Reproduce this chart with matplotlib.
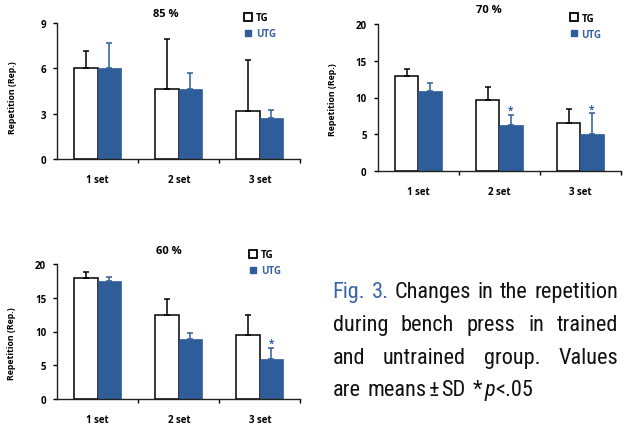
import matplotlib
matplotlib.use('Agg')
import matplotlib.pyplot as plt
from matplotlib import font_manager
from matplotlib.lines import Line2D
import numpy as np

BLUE = '#2F5D9A'
LABEL_BLUE = '#3B63A6'

sets = ['1 set', '2 set', '3 set']

# 85 % 1RM
tg_85 = [6.0, 4.6, 3.15]
tg_85_sd = [1.15, 3.33, 3.37]
utg_85 = [6.0, 4.6, 2.72]
utg_85_sd = [1.7, 1.08, 0.5]
sig_85 = [False, False, False]

# 70 % 1RM
tg_70 = [12.9, 9.65, 6.5]
tg_70_sd = [1.0, 1.72, 1.9]
utg_70 = [10.85, 6.3, 5.0]
utg_70_sd = [1.08, 1.36, 2.85]
sig_70 = [False, True, True]

# 60 % 1RM
tg_60 = [18.0, 12.5, 9.5]
tg_60_sd = [0.75, 2.36, 2.96]
utg_60 = [17.5, 8.95, 5.9]
utg_60_sd = [0.6, 0.85, 1.72]
sig_60 = [False, False, True]


def pick_font(names):
    for name in names:
        try:
            font_manager.findfont(name, fallback_to_default=False)
            return name
        except Exception:
            pass
    return 'DejaVu Sans'

CHART_FONT = pick_font(['Open Sans', 'Liberation Sans'])
CAPTION_FONT = pick_font(['Roboto Condensed', 'Liberation Sans Narrow',
                          'Roboto', 'Liberation Sans'])

plt.rcParams['font.family'] = [CHART_FONT, 'DejaVu Sans']

W, H = 625, 427
fig = plt.figure(figsize=(W / 100, H / 100), dpi=100)


def px_rect(left, right, top, bottom):
    return [left / W, 1 - bottom / H, (right - left) / W, (bottom - top) / H]


def draw_panel(rect, title, tg, tg_sd, utg, utg_sd, sig, yticks,
               title_pos, legend_pos, ylabel_pos):
    ax = fig.add_axes(rect)
    x = np.arange(len(sets))
    w = 0.288
    zeros = np.zeros(len(sets))
    ax.bar(x - w / 2, tg, w, color='white', edgecolor='black', linewidth=1.1,
           yerr=[zeros, tg_sd], ecolor='black',
           error_kw=dict(elinewidth=1.1, capsize=2, capthick=1.1), zorder=2)
    ax.bar(x + w / 2, utg, w, color=BLUE, edgecolor=BLUE, linewidth=0.5,
           yerr=[zeros, utg_sd], ecolor=BLUE,
           error_kw=dict(elinewidth=1.1, capsize=2, capthick=1.1), zorder=2)
    for xi, m, s, flag in zip(x, utg, utg_sd, sig):
        if flag:
            ax.annotate('*', (xi + w / 2, m + s), xytext=(0, -1),
                        textcoords='offset points', ha='center', va='bottom',
                        color=BLUE, fontsize=7, fontweight='bold')
    ax.set_xlim(-0.5, 2.5)
    ax.set_ylim(0, yticks[-1])
    ax.set_yticks(yticks)
    ax.set_xticks(x)
    ax.set_xticklabels(sets)
    ax.set_xticks([0.5, 1.5, 2.5], minor=True)
    ax.tick_params(axis='x', which='major', length=0, pad=11, labelsize=7)
    ax.tick_params(axis='x', which='minor', length=3, width=1, direction='out')
    ax.tick_params(axis='y', length=3, width=1, direction='out', pad=5,
                   labelsize=7)
    for lab in ax.get_xticklabels() + ax.get_yticklabels():
        lab.set_fontweight('bold')
    for side in ['top', 'right']:
        ax.spines[side].set_visible(False)
    for side in ['left', 'bottom']:
        ax.spines[side].set_linewidth(1.0)
        ax.spines[side].set_color('#222222')
    ax.set_ylabel('Repetition (Rep.)', fontsize=6.3, fontweight='bold')
    ax.yaxis.set_label_coords(*ylabel_pos)
    ax.text(title_pos[0], title_pos[1], title, transform=ax.transAxes,
            ha='center', va='center', fontsize=8, fontweight='bold')
    handles = [
        Line2D([], [], linestyle='none', marker='s', markersize=5.5,
               markerfacecolor='white', markeredgecolor='black',
               markeredgewidth=1.3),
        Line2D([], [], linestyle='none', marker='s', markersize=5,
               markerfacecolor=BLUE, markeredgecolor=BLUE),
    ]
    leg = ax.legend(handles, ['TG', 'UTG'], loc='center left',
                    bbox_to_anchor=legend_pos, frameon=False,
                    handlelength=0.8, handletextpad=0.4,
                    labelspacing=0.5, borderpad=0, borderaxespad=0,
                    prop=dict(weight='bold', size=7))
    leg.get_texts()[1].set_color(LABEL_BLUE)
    return ax


draw_panel(px_rect(57.3, 300.3, 24, 160), '85 %', tg_85, tg_85_sd,
           utg_85, utg_85_sd, sig_85, [0, 3, 6, 9],
           (0.447, 1.07), (0.77, 0.98), (-0.166, 0.46))
draw_panel(px_rect(377.7, 620.7, 25, 172), '70 %', tg_70, tg_70_sd,
           utg_70, utg_70_sd, sig_70, [0, 5, 10, 15, 20],
           (0.458, 1.10), (0.79, 0.985), (-0.169, 0.49))
draw_panel(px_rect(57.3, 300.3, 265, 400), '60 %', tg_60, tg_60_sd,
           utg_60, utg_60_sd, sig_60, [0, 5, 10, 15, 20],
           (0.46, 1.10), (0.79, 1.01), (-0.171, 0.42))

# caption, justified like the printed figure
renderer = fig.canvas.get_renderer()
K = '#111111'
CAP_BLUE = '#3A64A8'
caption_lines = [
    ([[('Fig.', CAP_BLUE, 'normal', 0)], [('3.', CAP_BLUE, 'normal', 0)],
      [('Changes', K, 'normal', 0)], [('in', K, 'normal', 0)],
      [('the', K, 'normal', 0)], [('repetition', K, 'normal', 0)]], True),
    ([[('during', K, 'normal', 0)], [('bench', K, 'normal', 0)],
      [('press', K, 'normal', 0)], [('in', K, 'normal', 0)],
      [('trained', K, 'normal', 0)]], True),
    ([[('and', K, 'normal', 0)], [('untrained', K, 'normal', 0)],
      [('group.', K, 'normal', 0)], [('Values', K, 'normal', 0)]], True),
    ([[('are', K, 'normal', 0)],
      [('means', K, 'normal', 2), ('\u00b1', K, 'normal', 2),
       ('SD', K, 'normal', 0)],
      [('*', K, 'normal', 2), ('p', K, 'italic', 0), ('<.05', K, 'normal', 0)]],
     False),
]
x_left, x_right = 332.5, 618.0
baselines = [298, 331, 364, 396]


def text_width(txt, size, style='normal'):
    t = fig.text(0, 0, txt, fontsize=size, family=CAPTION_FONT, style=style)
    wd = t.get_window_extent(renderer=renderer).width
    t.remove()
    return wd


# largest size at which the first (tightest) line still has normal word gaps
cap_size = 18.0
while cap_size > 10:
    words0 = caption_lines[0][0]
    total = sum(text_width(r[0], cap_size) for wd in words0 for r in wd)
    space = text_width('a a', cap_size) - text_width('aa', cap_size)
    if (x_right - x_left - total) / (len(words0) - 1) >= 1.1 * space:
        break
    cap_size -= 0.25

for (words, justify), base in zip(caption_lines, baselines):
    runs = []
    widths = []
    for word in words:
        ww = 0
        for txt, col, style, pad in word:
            t = fig.text(0, 1 - base / H, txt, fontsize=cap_size,
                         family=CAPTION_FONT, color=col, style=style,
                         va='baseline', ha='left')
            bb = t.get_window_extent(renderer=renderer)
            runs.append((t, bb.width + pad))
            ww += bb.width + pad
        widths.append(ww)
    if justify and len(words) > 1:
        gap = (x_right - x_left - sum(widths)) / (len(words) - 1)
    else:
        gap = (text_width('a a', cap_size) - text_width('aa', cap_size)) * 1.4
    xpos = x_left
    i = 0
    for word in words:
        for _ in word:
            t, wd = runs[i]
            t.set_x(xpos / W)
            xpos += wd
            i += 1
        xpos += gap

fig.savefig('out.png', dpi=100)
